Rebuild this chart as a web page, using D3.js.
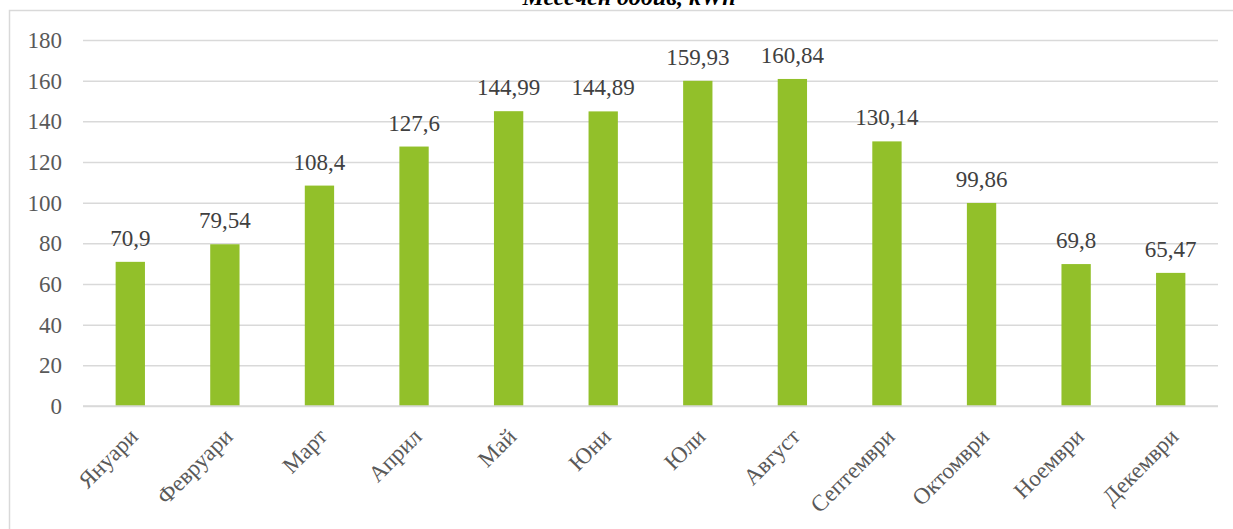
<!DOCTYPE html>
<html>
<head>
<meta charset="utf-8">
<script src="https://cdn.jsdelivr.net/npm/d3@7"></script>
<style>
  html, body { margin: 0; padding: 0; background: #ffffff; }
  svg { display: block; }
</style>
</head>
<body>
<svg id="chart" width="1233" height="529"></svg>
<script>
const titleText = "Месечен добив, kWh";
const categories = ["Януари", "Февруари", "Март", "Април", "Май", "Юни", "Юли", "Август", "Септември", "Октомври", "Ноември", "Декември"];
const values = [70.9, 79.54, 108.4, 127.6, 144.99, 144.89, 159.93, 160.84, 130.14, 99.86, 69.8, 65.47];
const valueLabels = ["70,9", "79,54", "108,4", "127,6", "144,99", "144,89", "159,93", "160,84", "130,14", "99,86", "69,8", "65,47"];
const yTicks = [0, 20, 40, 60, 80, 100, 120, 140, 160, 180];

(function () {
const svg = d3.select("#chart");
const FONT = '"Liberation Serif", "Times New Roman", serif';
const plotLeft = 83, plotRight = 1218, plotTop = 40, plotBottom = 406;

// outer border (only top and left edges visible)
svg.append("rect")
  .attr("x", 9.5).attr("y", 10.5)
  .attr("width", 1300).attr("height", 600)
  .attr("fill", "none").attr("stroke", "#d9d9d9").attr("stroke-width", 1.5);

// title, clipped at top as in the reference
svg.append("text")
  .attr("x", 629).attr("y", 5)
  .attr("text-anchor", "middle")
  .style("font-family", FONT)
  .attr("font-size", 24)
  .attr("font-weight", "bold").attr("font-style", "italic")
  .attr("fill", "#000")
  .text(titleText);

const x = d3.scaleBand().domain(categories).range([plotLeft, plotRight])
  .paddingInner(0.69).paddingOuter(0.345);
const y = d3.scaleLinear().domain([0, 180]).range([plotBottom, plotTop]);

// gridlines + y labels
const yAxis = d3.axisLeft(y).tickValues(yTicks).tickSize(-(plotRight - plotLeft)).tickPadding(21).tickFormat(d3.format("d"));
const gy = svg.append("g").attr("transform", `translate(${plotLeft},0)`).call(yAxis);
gy.select(".domain").remove();
gy.selectAll(".tick line").attr("stroke", "#d9d9d9").attr("stroke-width", 1.5);
gy.selectAll(".tick text")
  .style("font-family", FONT)
  .attr("font-size", 23).attr("fill", "#595959");

// bars
svg.append("g").selectAll("rect").data(values).join("rect")
  .attr("x", (d, i) => x(categories[i]))
  .attr("y", d => y(d))
  .attr("width", x.bandwidth())
  .attr("height", d => y(0) - y(d))
  .attr("fill", "#92c02a");

// baseline
svg.append("line")
  .attr("x1", plotLeft).attr("x2", plotRight)
  .attr("y1", y(0)).attr("y2", y(0))
  .attr("stroke", "#d9d9d9").attr("stroke-width", 1.5);

// data labels
svg.append("g").selectAll("text").data(values).join("text")
  .attr("x", (d, i) => x(categories[i]) + x.bandwidth() / 2)
  .attr("y", d => y(d) - 16)
  .attr("text-anchor", "middle")
  .style("font-family", FONT)
  .attr("font-size", 23).attr("fill", "#404040")
  .text((d, i) => valueLabels[i]);

// x axis labels rotated
const xAxis = d3.axisBottom(x).tickSize(0).tickPadding(0);
const gx = svg.append("g").attr("transform", `translate(0,${plotBottom})`).call(xAxis);
gx.select(".domain").remove();
gx.selectAll(".tick text")
  .style("font-family", FONT)
  .attr("font-size", 23).attr("fill", "#595959")
  .attr("text-anchor", "end")
  .attr("dy", null)
  .attr("y", 0)
  .attr("transform", "translate(9,32) rotate(-45)");
})();
</script>
</body>
</html>
